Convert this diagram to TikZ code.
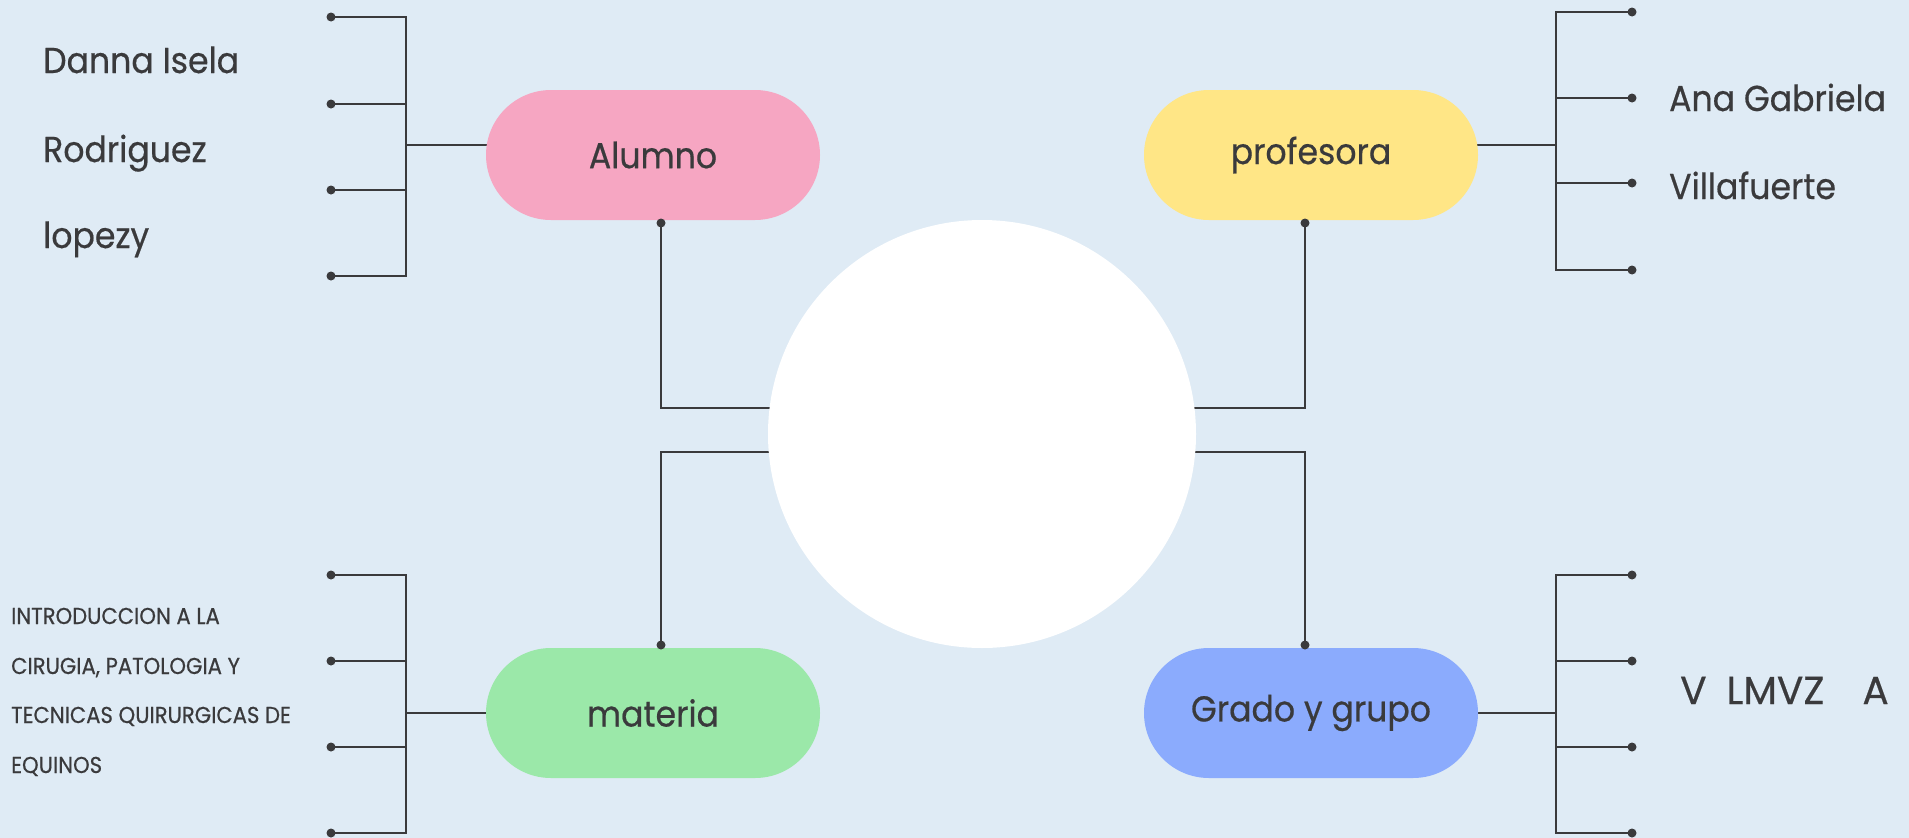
\documentclass[tikz,border=0pt]{standalone}
\usepackage{fontspec}
\setmainfont{Poppins}[FakeStretch=0.92, FakeBold=0.5]
\newfontfamily\widefont{Poppins}[FakeBold=0.5]
\definecolor{bgc}{HTML}{DFEBF5}
\definecolor{pinkc}{HTML}{F6A6C2}
\definecolor{yelc}{HTML}{FFE686}
\definecolor{grnc}{HTML}{9BE8A9}
\definecolor{bluc}{HTML}{8BABFD}
\definecolor{inkc}{HTML}{3A3A3C}
\pgfdeclarelayer{bgl}
\pgfdeclarelayer{conn}
\pgfsetlayers{bgl,conn,main}
\tikzset{
  pill/.style={rectangle, rounded corners=65pt, minimum width=334pt, minimum height=130pt, inner sep=0pt, text=inkc, font=\fontsize{36}{40}\selectfont},
  wire/.style={draw=inkc, line width=2.3pt},
  dotc/.style={circle, fill=inkc, inner sep=0pt, minimum size=9pt},
  bigtxt/.style={anchor=base west, inner sep=0pt, text=inkc, font=\fontsize{36}{40}\selectfont},
  smalltxt/.style={anchor=base west, inner sep=0pt, text=inkc, font=\fontsize{23}{26}\selectfont},
}
\begin{document}
\begin{tikzpicture}[x=1pt,y=-1pt]
\begin{pgfonlayer}{bgl}
\fill[bgc] (0,0) rectangle (1909,838);
\end{pgfonlayer}
\useasboundingbox (0,0) rectangle (1909,838);

% central circle and pills
\node[circle, fill=white, minimum size=428pt, inner sep=0pt] (hub) at (982,434) {};
\node[pill, fill=pinkc] (alumno) at (653,155) {Alumno};
\node[pill, fill=yelc] (prof) at (1311,155) {profesora};
\node[pill, fill=grnc] (materia) at (653,713) {materia};
\node[pill, fill=bluc] (grado) at (1311,713) {Grado y grupo};

% dots at pill ends
\node[dotc] (da) at (661,223) {};
\node[dotc] (dp) at (1305,223) {};
\node[dotc] (dm) at (661,645) {};
\node[dotc] (dg) at (1305,645) {};

\coordinate (ka) at (661,408);
\coordinate (kp) at (1305,408);
\coordinate (km) at (661,452);
\coordinate (kg) at (1305,452);

\begin{pgfonlayer}{conn}
\draw[wire] (da.center) -- (ka) -- (ka -| hub.center);
\draw[wire] (dp.center) -- (kp) -- (kp -| hub.center);
\draw[wire] (dm.center) -- (km) -- (km -| hub.center);
\draw[wire] (dg.center) -- (kg) -- (kg -| hub.center);
\end{pgfonlayer}

% left top bracket
\node[dotc] (l1) at (331,17) {};
\node[dotc] (l2) at (331,104) {};
\node[dotc] (l3) at (331,190) {};
\node[dotc] (l4) at (331,276) {};
\coordinate (lv) at (406,145);
\begin{pgfonlayer}{conn}
\draw[wire] (l1.center) -| (l4.center -| lv) -- (l4.center);
\draw[wire] (l2.center) -- (l2.center -| lv);
\draw[wire] (l3.center) -- (l3.center -| lv);
\draw[wire] (lv) -- (lv -| alumno.center);
\end{pgfonlayer}

% right top bracket
\node[dotc] (r1) at (1632,12) {};
\node[dotc] (r2) at (1632,98) {};
\node[dotc] (r3) at (1632,183) {};
\node[dotc] (r4) at (1632,270) {};
\coordinate (rv) at (1556,145);
\begin{pgfonlayer}{conn}
\draw[wire] (r1.center) -| (r4.center -| rv) -- (r4.center);
\draw[wire] (r2.center) -- (r2.center -| rv);
\draw[wire] (r3.center) -- (r3.center -| rv);
\draw[wire] (rv) -- (rv -| prof.center);
\end{pgfonlayer}

% left bottom bracket
\node[dotc] (b1) at (331,575) {};
\node[dotc] (b2) at (331,661) {};
\node[dotc] (b3) at (331,747) {};
\node[dotc] (b4) at (331,833) {};
\coordinate (bv) at (406,713);
\begin{pgfonlayer}{conn}
\draw[wire] (b1.center) -| (b4.center -| bv) -- (b4.center);
\draw[wire] (b2.center) -- (b2.center -| bv);
\draw[wire] (b3.center) -- (b3.center -| bv);
\draw[wire] (bv) -- (bv -| materia.center);
\end{pgfonlayer}

% right bottom bracket
\node[dotc] (g1) at (1632,575) {};
\node[dotc] (g2) at (1632,661) {};
\node[dotc] (g3) at (1632,747) {};
\node[dotc] (g4) at (1632,833) {};
\coordinate (gv) at (1556,713);
\begin{pgfonlayer}{conn}
\draw[wire] (g1.center) -| (g4.center -| gv) -- (g4.center);
\draw[wire] (g2.center) -- (g2.center -| gv);
\draw[wire] (g3.center) -- (g3.center -| gv);
\draw[wire] (gv) -- (gv -| grado.center);
\end{pgfonlayer}

% texts
\node[bigtxt] (t1) at (43,73) {Danna Isela};
\node[bigtxt] (t2) at (43,162) {Rodriguez};
\node[bigtxt] (t3) at (43,248) {lopezy};
\node[bigtxt] (t4) at (1669,111) {Ana Gabriela};
\node[bigtxt] (t5) at (1669,199) {Villafuerte};
\node[smalltxt] (s1) at (11,624) {INTRODUCCION A LA};
\node[smalltxt] (s2) at (11,674) {CIRUGIA, PATOLOGIA Y};
\node[smalltxt] (s3) at (11,723) {TECNICAS QUIRURGICAS DE};
\node[smalltxt] (s4) at (11,773) {EQUINOS};
\node[bigtxt, font=\widefont\fontsize{39}{44}\selectfont] (v1) at (1680,704) {V\hspace{20pt}LMVZ\hspace{38pt}A};
\end{tikzpicture}
\end{document}
